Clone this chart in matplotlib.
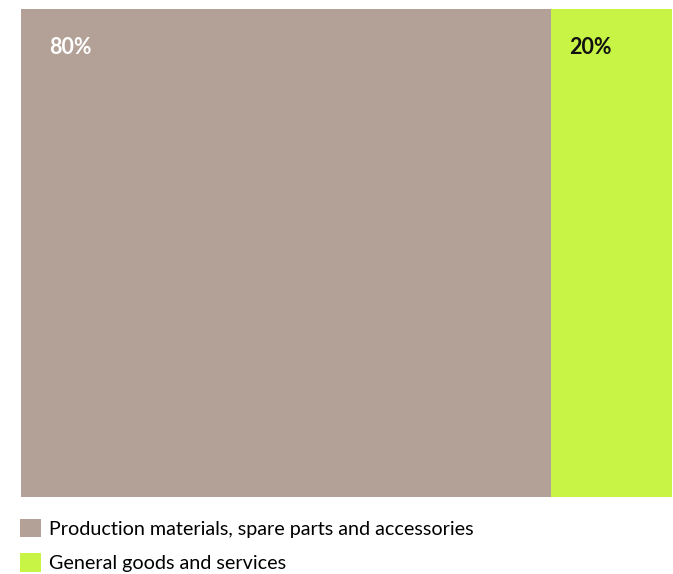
import matplotlib.pyplot as plt
from matplotlib.patches import Patch

categories = ["Production materials, spare parts and accessories", "General goods and services"]
shares = [81.4, 18.6]          # widths as drawn in the picture
labels = ["80%", "20%"]
colors = ["#b3a096", "#c8f446"]
label_colors = ["white", "#111111"]
label_pad = [28, 18]           # px from the left edge of each block

plt.rcParams['font.family'] = ['Lato', 'DejaVu Sans']

W, H = 673, 574
fig = plt.figure(figsize=(W / 100, H / 100), dpi=100)
ax = fig.add_axes([21 / W, (H - 497) / H, (672 - 21) / W, (497 - 9) / H])

left = 0
for s, lab, c, tc, p in zip(shares, labels, colors, label_colors, label_pad):
    ax.bar(left, 1, width=s, align='edge', color=c, linewidth=0)
    ax.text(left + p / 651 * 100, 1 - 38 / 488, lab, color=tc, fontsize=15.5,
            fontweight='bold', ha='left', va='center')
    left += s

ax.set_xlim(0, 100)
ax.set_ylim(0, 1)
ax.axis('off')

handles = [Patch(facecolor=c, edgecolor='none') for c in colors]
fig.legend(handles, categories, loc='upper left', bbox_to_anchor=(14 / W, 1 - 513 / H),
           frameon=False, fontsize=14.2, handlelength=1.06, handleheight=1.06,
           handletextpad=0.4, labelspacing=0.78, borderaxespad=0, borderpad=0.3)

fig.savefig("out.png", dpi=100)
